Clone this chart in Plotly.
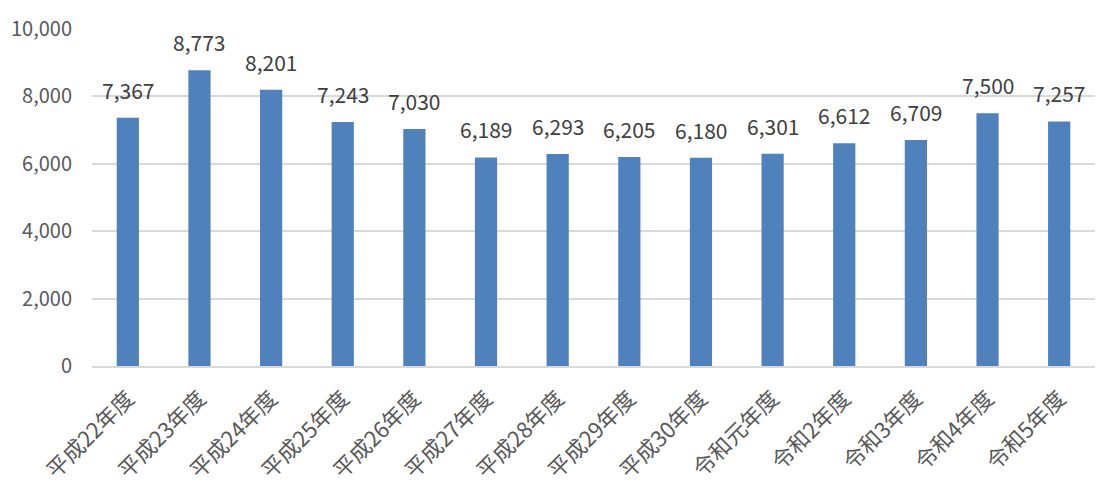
import plotly.graph_objects as go

categories = ["平成22年度", "平成23年度", "平成24年度", "平成25年度", "平成26年度", "平成27年度",
              "平成28年度", "平成29年度", "平成30年度", "令和元年度", "令和2年度", "令和3年度",
              "令和4年度", "令和5年度"]
values = [7367, 8773, 8201, 7243, 7030, 6189, 6293, 6205, 6180, 6301, 6612, 6709, 7500, 7257]
y_ticks = [0, 2000, 4000, 6000, 8000, 10000]
y_tick_labels = ["0", "2,000", "4,000", "6,000", "8,000", "10,000"]

font_family = "Noto Sans CJK JP, Noto Sans, sans-serif"

fig = go.Figure(go.Bar(
    x=categories,
    y=values,
    width=0.31,
    marker=dict(color="#4F81BD", line=dict(width=0)),
))

for c, v in zip(categories, values):
    fig.add_annotation(
        x=c, y=v, text=f"{v:,}", showarrow=False,
        yanchor="bottom", yshift=11,
        font=dict(size=21, color="#404040", family=font_family),
    )

fig.update_layout(
    width=1117, height=496,
    margin=dict(l=92, r=22, t=29, b=130),
    paper_bgcolor="white", plot_bgcolor="white",
    showlegend=False,
    font=dict(family=font_family),
    xaxis=dict(
        tickangle=-45,
        tickfont=dict(size=22, color="#595959", family=font_family),
        showgrid=False,
        showline=True, linecolor="#d9d9d9", linewidth=2,
        ticks="",
        ticklabelstandoff=9,
    ),
    yaxis=dict(
        range=[0, 10000],
        tickvals=y_ticks,
        ticktext=y_tick_labels,
        tickfont=dict(size=20, color="#595959", family=font_family),
        showgrid=True, gridcolor="#d9d9d9", gridwidth=1.5,
        zeroline=False,
        ticks="", ticklen=0,
        ticklabelstandoff=19,
    ),
)

fig.write_html("out.html")
